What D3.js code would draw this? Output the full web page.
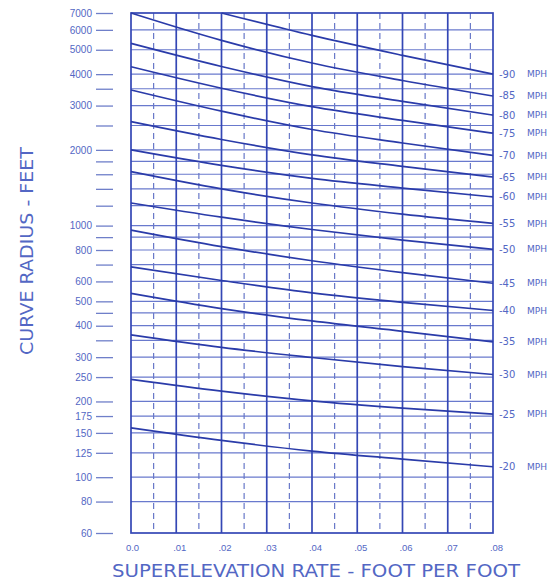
<!DOCTYPE html>
<html>
<head>
<meta charset="utf-8">
<script src="https://cdn.jsdelivr.net/npm/d3@7"></script>
<style>
  html, body { margin: 0; padding: 0; background: #fff; }
  svg { display: block; font-family: "DejaVu Sans", sans-serif; }
</style>
</head>
<body>
<svg id="chart" width="551" height="580"></svg>
<script>
// superelevation rate (ft/ft) where the curves were read
const rates = [0, 0.02, 0.04, 0.06, 0.08];

const speeds = [90, 85, 80, 75, 70, 65, 60, 55, 50, 45, 40, 35, 30, 25, 20];

// curve radius (ft) for each speed at each rate above
const radii = [
  [null, 7000, 5700, 4750, 4000],
  [7000, 5450, 4430, 3775, 3275],
  [5300, 4290, 3570, 3120, 2750],
  [4280, 3515, 2970, 2620, 2330],
  [3460, 2850, 2410, 2130, 1900],
  [2590, 2200, 1910, 1720, 1560],
  [2000, 1735, 1540, 1410, 1300],
  [1640, 1400, 1230, 1110, 1020],
  [1230, 1080, 965, 875, 805],
  [960, 825, 725, 650, 590],
  [685, 605, 540, 495, 460],
  [538, 468, 418, 380, 345],
  [368, 328, 299, 275, 256],
  [245, 220, 201, 188, 178],
  [157, 140, 127, 118, 110]
];

const yLabeled = [7000, 6000, 5000, 4000, 3000, 2000, 1000, 800, 600, 500, 400, 300, 250, 200, 175, 150, 125, 100, 80, 60];
const yMinor = [3500, 2500, 1800, 1600, 1400, 1200, 900, 700, 450, 350];

const xTicks = [0, 0.01, 0.02, 0.03, 0.04, 0.05, 0.06, 0.07, 0.08];
const xTickLabels = ['0.0', '.01', '.02', '.03', '.04', '.05', '.06', '.07', '.08'];
const xHalfTicks = [0.005, 0.015, 0.025, 0.035, 0.045, 0.055, 0.065, 0.075];

const lineBlue = '#2a3ba9';
const gridBlue = '#4457c0';
const textBlue = '#5367c4';

const svg = d3.select('#chart');
const plotLeft = 131, plotRight = 493, plotTop = 13, plotBottom = 533;

const x = d3.scaleLinear().domain([0, 0.08]).range([plotLeft, plotRight]);
const y = d3.scaleLog().domain([60, 7000]).range([plotBottom, plotTop]);

const allY = yLabeled.concat(yMinor).sort((a, b) => b - a);

// horizontal grid
svg.append('g')
  .selectAll('line')
  .data(allY.filter(d => d !== 7000 && d !== 60))
  .join('line')
  .attr('x1', plotLeft).attr('x2', plotRight)
  .attr('y1', d => y(d)).attr('y2', d => y(d))
  .attr('stroke', gridBlue)
  .attr('stroke-opacity', 0.8)
  .attr('stroke-width', 1.2);

// dashed half-step verticals
svg.append('g')
  .selectAll('line')
  .data(xHalfTicks)
  .join('line')
  .attr('x1', d => x(d)).attr('x2', d => x(d))
  .attr('y1', plotTop).attr('y2', plotBottom)
  .attr('stroke', '#6878c8')
  .attr('stroke-width', 1.2)
  .attr('stroke-dasharray', '6,4');

// solid verticals
svg.append('g')
  .selectAll('line')
  .data(xTicks.slice(1, -1))
  .join('line')
  .attr('x1', d => x(d)).attr('x2', d => x(d))
  .attr('y1', plotTop).attr('y2', plotBottom)
  .attr('stroke', '#3447b5')
  .attr('stroke-width', 1.7);

// frame
svg.append('rect')
  .attr('x', plotLeft).attr('y', plotTop)
  .attr('width', plotRight - plotLeft).attr('height', plotBottom - plotTop)
  .attr('fill', 'none')
  .attr('stroke', '#3447b5')
  .attr('stroke-width', 1.7);

// left axis: detached tick marks with labels
const yAxis = svg.append('g')
  .attr('transform', `translate(113,0)`)
  .call(d3.axisLeft(y)
    .tickValues(allY)
    .tickSize(17)
    .tickPadding(4)
    .tickFormat(d => yLabeled.includes(d) ? d : ''));
yAxis.select('.domain').remove();
yAxis.selectAll('.tick line').attr('stroke', '#6f7fc9').attr('stroke-width', 1.3);
yAxis.selectAll('.tick text')
  .attr('fill', textBlue)
  .style('font-size', '10px');

// bottom axis labels
const xAxis = svg.append('g')
  .attr('transform', `translate(0,${plotBottom})`)
  .call(d3.axisBottom(x)
    .tickValues(xTicks)
    .tickSize(0)
    .tickPadding(11)
    .tickFormat((d, i) => xTickLabels[i]));
xAxis.select('.domain').remove();
xAxis.selectAll('.tick text')
  .attr('fill', textBlue)
  .attr('dx', (d, i) => i === 0 ? 1 : 3)
  .style('font-size', '9.5px');

// speed curves
const line = d3.line()
  .defined(d => d[1] != null)
  .x(d => x(d[0]))
  .y(d => y(d[1]))
  .curve(d3.curveMonotoneX);

svg.append('g')
  .selectAll('path')
  .data(radii)
  .join('path')
  .attr('d', r => line(r.map((v, i) => [rates[i], v])))
  .attr('fill', 'none')
  .attr('stroke', lineBlue)
  .attr('stroke-width', 1.7);

// speed labels at right end
const labels = svg.append('g')
  .selectAll('g')
  .data(speeds)
  .join('g')
  .attr('transform', (d, i) => `translate(0,${y(radii[i][radii[i].length - 1])})`);
labels.append('text')
  .attr('x', plotRight + 6)
  .attr('dy', '0.35em')
  .attr('fill', textBlue)
  .style('font-size', '10px')
  .text(d => '-' + d);
labels.append('text')
  .attr('x', plotRight + 34)
  .attr('dy', '0.35em')
  .attr('fill', textBlue)
  .style('font-size', '9px')
  .text('MPH');

// axis titles
svg.append('text')
  .attr('x', 316)
  .attr('y', 577)
  .attr('text-anchor', 'middle')
  .attr('fill', textBlue)
  .attr('textLength', 408)
  .attr('lengthAdjust', 'spacingAndGlyphs')
  .style('font-size', '17px')
  .text('SUPERELEVATION RATE  -  FOOT PER FOOT');

svg.append('text')
  .attr('transform', 'translate(33,251) rotate(-90)')
  .attr('text-anchor', 'middle')
  .attr('fill', textBlue)
  .attr('textLength', 208)
  .attr('lengthAdjust', 'spacingAndGlyphs')
  .style('font-size', '18px')
  .text('CURVE RADIUS  -  FEET');
</script>
</body>
</html>
